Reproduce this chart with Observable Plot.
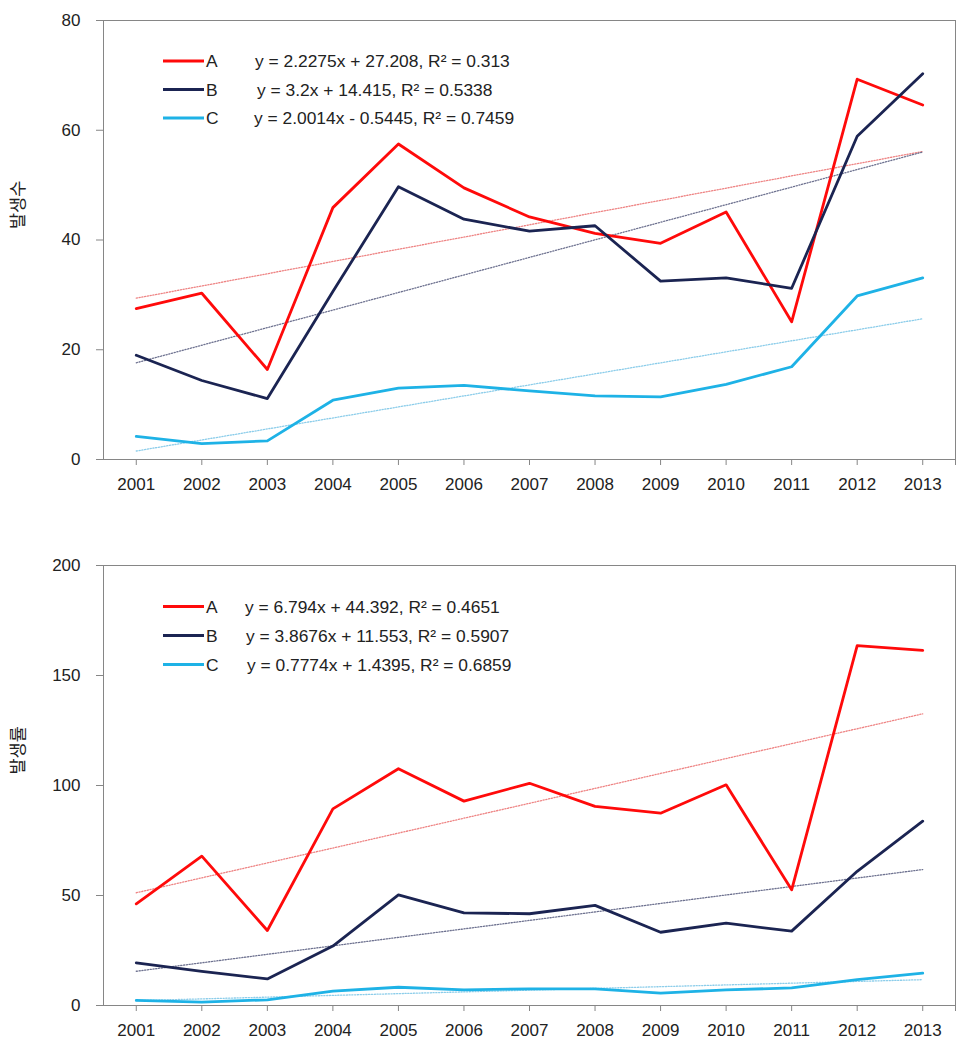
<!DOCTYPE html>
<html><head><meta charset="utf-8">
<script src="https://cdn.jsdelivr.net/npm/d3@7"></script>
<script src="https://cdn.jsdelivr.net/npm/@observablehq/plot@0.6"></script>
<style>
body{margin:0;background:#fff}
#chart svg{display:block}
#chart g[aria-label="x-axis"] line, #chart g[aria-label="y-axis"] line,
#chart g[aria-label="x-axis tick"] path, #chart g[aria-label="y-axis tick"] path {stroke:#868686}
</style></head><body><div id="chart"></div>
<script>
const years = [2001,2002,2003,2004,2005,2006,2007,2008,2009,2010,2011,2012,2013];
const seriesNames = ["A","B","C"];
const seriesColors = ["#ff0a0a","#1b2452","#1eb2e6"];
const trendColors = ["#ee8484","#6e7290","#8ccdea"];

const countA = [27.5,30.3,16.4,45.9,57.5,49.5,44.2,41.2,39.4,45.1,25.1,69.3,64.6];
const countB = [19.0,14.4,11.1,30.6,49.7,43.8,41.6,42.6,32.5,33.1,31.2,58.9,70.3];
const countC = [4.2,2.9,3.4,10.8,13.0,13.5,12.5,11.6,11.4,13.7,16.9,29.8,33.1];

const rateA = [46.2,67.9,34.1,89.4,107.6,92.9,101.0,90.5,87.4,100.3,52.6,163.6,161.4];
const rateB = [19.4,15.5,12.1,27.0,50.3,42.1,41.7,45.5,33.3,37.4,33.8,61.0,83.8];
const rateC = [2.3,1.5,2.6,6.5,8.3,7.1,7.6,7.6,5.6,7.1,8.0,11.8,14.7];

const countTicks = [0,20,40,60,80];
const rateTicks = [0,50,100,150,200];

const countEquations = [
  "y = 2.2275x + 27.208, R\u00B2 = 0.313",
  "y = 3.2x + 14.415, R\u00B2 = 0.5338",
  "y = 2.0014x - 0.5445, R\u00B2 = 0.7459"
];
const rateEquations = [
  "y = 6.794x + 44.392, R\u00B2 = 0.4651",
  "y = 3.8676x + 11.553, R\u00B2 = 0.5907",
  "y = 0.7774x + 1.4395, R\u00B2 = 0.6859"
];
const countTitle = "발생수";
const rateTitle = "발생률";

function makeChart({values, ticks, title, equations, height, marginTop, marginBottom, legendY, legendStep, eqX}) {
  const rows = seriesNames.map((s, k) => years.map((yr, i) => ({year: yr, value: values[k][i], series: s})));
  const marks = [Plot.frame({stroke: "#868686"})];
  rows.forEach((r, k) => {
    marks.push(Plot.linearRegressionY(r, {x: "year", y: "value", ci: 0, stroke: trendColors[k], strokeWidth: 1.3, strokeDasharray: "1.2 1.6"}));
  });
  rows.forEach((r, k) => {
    marks.push(Plot.line(r, {x: "year", y: "value", stroke: seriesColors[k], strokeWidth: 2.8}));
  });
  marks.push(Plot.text([title], {frameAnchor: "left", dx: -85, dy: -11, rotate: -90, fontSize: 17.5, fontFamily: "Noto Sans CJK KR", fill: "#222"}));
  const plot = Plot.plot({
    width: 974, height, marginLeft: 103, marginRight: 19, marginTop, marginBottom,
    style: {fontFamily: "Liberation Sans, Arial, sans-serif", fontSize: "17px", color: "#222", background: "#fff"},
    x: {domain: [2000.5, 2013.5], ticks: [...years, 2013.5], tickFormat: d => Number.isInteger(d) ? String(d) : "", tickSize: 6, tickPadding: 12, label: null},
    y: {domain: [ticks[0], ticks[ticks.length - 1]], ticks, tickSize: 7, tickPadding: 16, label: null},
    marks
  });
  const svg = d3.select(plot);
  const g = svg.append("g")
    .attr("font-family", "Liberation Sans, Arial, sans-serif")
    .attr("font-size", 17.4).attr("fill", "#222").attr("text-anchor", "start");
  seriesNames.forEach((s, k) => {
    const y = legendY + k * legendStep;
    g.append("line").attr("x1", 163).attr("x2", 204).attr("y1", y).attr("y2", y).attr("stroke", seriesColors[k]).attr("stroke-width", 3);
    g.append("text").attr("x", 206).attr("y", y).attr("dy", "0.36em").attr("text-anchor", "start").text(s);
    g.append("text").attr("x", eqX[k]).attr("y", y).attr("dy", "0.36em").attr("text-anchor", "start").text(equations[k]);
  });
  return plot;
}

const chart = document.getElementById("chart");
chart.appendChild(makeChart({values: [countA, countB, countC], ticks: countTicks, title: countTitle, equations: countEquations,
  height: 530, marginTop: 20, marginBottom: 71, legendY: 61, legendStep: 28.5, eqX: [255, 257, 254]}));
chart.appendChild(makeChart({values: [rateA, rateB, rateC], ticks: rateTicks, title: rateTitle, equations: rateEquations,
  height: 523, marginTop: 35, marginBottom: 48, legendY: 76.5, legendStep: 29, eqX: [245, 246, 247]}));
</script></body></html>
